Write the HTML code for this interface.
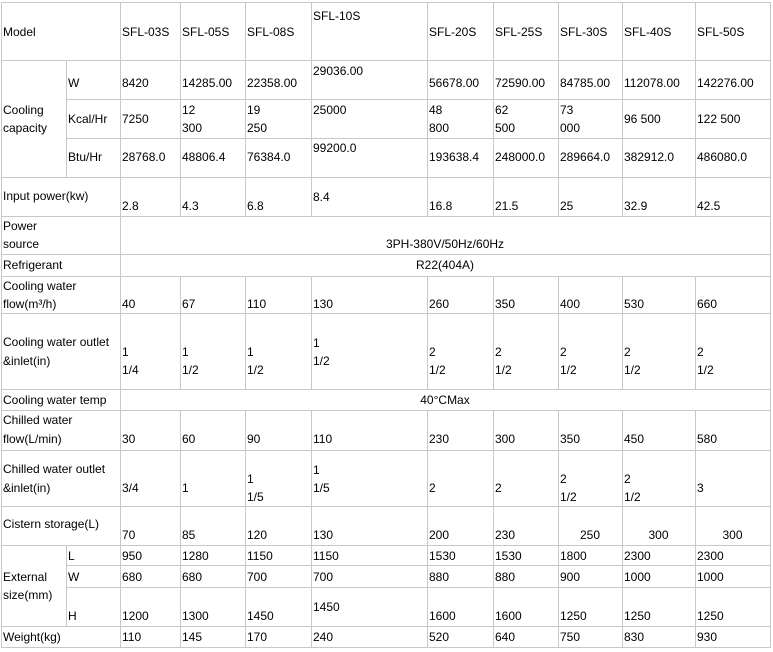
<!DOCTYPE html>
<html><head><meta charset="utf-8">
<style>
html,body{margin:0;padding:0;background:#fff;}
body{width:773px;height:652px;position:relative;overflow:hidden;}
.t{position:absolute;font-family:"Liberation Sans",Arial,sans-serif;font-size:12px;line-height:14px;white-space:nowrap;color:#000;}
.c{text-align:center;}
.h{position:absolute;height:1px;background:#c8c8c8;}
.v{position:absolute;width:1px;background:#c8c8c8;}
</style></head><body>
<!-- horizontal lines -->
<div class="h" style="left:1px;width:770px;top:2px"></div>
<div class="h" style="left:1px;width:770px;top:60px"></div>
<div class="h" style="left:66px;width:705px;top:99px"></div>
<div class="h" style="left:66px;width:705px;top:138px"></div>
<div class="h" style="left:1px;width:770px;top:177px"></div>
<div class="h" style="left:1px;width:770px;top:216px"></div>
<div class="h" style="left:1px;width:770px;top:254px"></div>
<div class="h" style="left:1px;width:770px;top:276px"></div>
<div class="h" style="left:1px;width:770px;top:313px"></div>
<div class="h" style="left:1px;width:770px;top:389px"></div>
<div class="h" style="left:1px;width:770px;top:410px"></div>
<div class="h" style="left:1px;width:770px;top:450px"></div>
<div class="h" style="left:1px;width:770px;top:506px"></div>
<div class="h" style="left:1px;width:770px;top:545px"></div>
<div class="h" style="left:66px;width:705px;top:565px"></div>
<div class="h" style="left:66px;width:705px;top:587px"></div>
<div class="h" style="left:1px;width:770px;top:626px"></div>
<div class="h" style="left:1px;width:770px;top:647px"></div>
<!-- vertical lines -->
<div class="v" style="left:1px;top:2px;height:646px"></div>
<div class="v" style="left:770px;top:2px;height:646px"></div>
<div class="v" style="left:120px;top:2px;height:646px"></div>
<div class="v" style="left:66px;top:60px;height:117px"></div>
<div class="v" style="left:66px;top:545px;height:81px"></div>
<div class="v" style="left:180px;top:2px;height:214px"></div><div class="v" style="left:180px;top:276px;height:113px"></div><div class="v" style="left:180px;top:410px;height:238px"></div>
<div class="v" style="left:245px;top:2px;height:214px"></div><div class="v" style="left:245px;top:276px;height:113px"></div><div class="v" style="left:245px;top:410px;height:238px"></div>
<div class="v" style="left:311px;top:2px;height:214px"></div><div class="v" style="left:311px;top:276px;height:113px"></div><div class="v" style="left:311px;top:410px;height:238px"></div>
<div class="v" style="left:427px;top:2px;height:214px"></div><div class="v" style="left:427px;top:276px;height:113px"></div><div class="v" style="left:427px;top:410px;height:238px"></div>
<div class="v" style="left:493px;top:2px;height:214px"></div><div class="v" style="left:493px;top:276px;height:113px"></div><div class="v" style="left:493px;top:410px;height:238px"></div>
<div class="v" style="left:558px;top:2px;height:214px"></div><div class="v" style="left:558px;top:276px;height:113px"></div><div class="v" style="left:558px;top:410px;height:238px"></div>
<div class="v" style="left:622px;top:2px;height:214px"></div><div class="v" style="left:622px;top:276px;height:113px"></div><div class="v" style="left:622px;top:410px;height:238px"></div>
<div class="v" style="left:695px;top:2px;height:214px"></div><div class="v" style="left:695px;top:276px;height:113px"></div><div class="v" style="left:695px;top:410px;height:238px"></div>

<!-- Model row -->
<div class="t" style="left:3px;top:25px">Model</div>
<div class="t" style="left:122px;top:25px">SFL-03S</div>
<div class="t" style="left:182px;top:25px">SFL-05S</div>
<div class="t" style="left:247px;top:25px">SFL-08S</div>
<div class="t" style="left:313px;top:9px">SFL-10S</div>
<div class="t" style="left:429px;top:25px">SFL-20S</div>
<div class="t" style="left:495px;top:25px">SFL-25S</div>
<div class="t" style="left:560px;top:25px">SFL-30S</div>
<div class="t" style="left:624px;top:25px">SFL-40S</div>
<div class="t" style="left:697px;top:25px">SFL-50S</div>

<!-- Cooling capacity -->
<div class="t" style="left:3px;top:103px">Cooling</div>
<div class="t" style="left:3px;top:121px">capacity</div>
<div class="t" style="left:68px;top:76px">W</div>
<div class="t" style="left:122px;top:76px">8420</div>
<div class="t" style="left:182px;top:76px">14285.00</div>
<div class="t" style="left:247px;top:76px">22358.00</div>
<div class="t" style="left:313px;top:64px">29036.00</div>
<div class="t" style="left:429px;top:76px">56678.00</div>
<div class="t" style="left:495px;top:76px">72590.00</div>
<div class="t" style="left:560px;top:76px">84785.00</div>
<div class="t" style="left:624px;top:76px">112078.00</div>
<div class="t" style="left:697px;top:76px">142276.00</div>

<div class="t" style="left:68px;top:112px">Kcal/Hr</div>
<div class="t" style="left:122px;top:112px">7250</div>
<div class="t" style="left:182px;top:103px">12</div><div class="t" style="left:182px;top:121px">300</div>
<div class="t" style="left:247px;top:103px">19</div><div class="t" style="left:247px;top:121px">250</div>
<div class="t" style="left:313px;top:103px">25000</div>
<div class="t" style="left:429px;top:103px">48</div><div class="t" style="left:429px;top:121px">800</div>
<div class="t" style="left:495px;top:103px">62</div><div class="t" style="left:495px;top:121px">500</div>
<div class="t" style="left:560px;top:103px">73</div><div class="t" style="left:560px;top:121px">000</div>
<div class="t" style="left:624px;top:112px">96 500</div>
<div class="t" style="left:697px;top:112px">122 500</div>

<div class="t" style="left:68px;top:150px">Btu/Hr</div>
<div class="t" style="left:122px;top:150px">28768.0</div>
<div class="t" style="left:182px;top:150px">48806.4</div>
<div class="t" style="left:247px;top:150px">76384.0</div>
<div class="t" style="left:313px;top:141px">99200.0</div>
<div class="t" style="left:429px;top:150px">193638.4</div>
<div class="t" style="left:495px;top:150px">248000.0</div>
<div class="t" style="left:560px;top:150px">289664.0</div>
<div class="t" style="left:624px;top:150px">382912.0</div>
<div class="t" style="left:697px;top:150px">486080.0</div>

<!-- Input power -->
<div class="t" style="left:3px;top:189px">Input power(kw)</div>
<div class="t" style="left:122px;top:199px">2.8</div>
<div class="t" style="left:182px;top:199px">4.3</div>
<div class="t" style="left:247px;top:199px">6.8</div>
<div class="t" style="left:313px;top:190px">8.4</div>
<div class="t" style="left:429px;top:199px">16.8</div>
<div class="t" style="left:495px;top:199px">21.5</div>
<div class="t" style="left:560px;top:199px">25</div>
<div class="t" style="left:624px;top:199px">32.9</div>
<div class="t" style="left:697px;top:199px">42.5</div>

<!-- Power source -->
<div class="t" style="left:3px;top:219px">Power</div>
<div class="t" style="left:3px;top:237px">source</div>
<div class="t c" style="left:120px;width:650px;top:237px">3PH-380V/50Hz/60Hz</div>

<!-- Refrigerant -->
<div class="t" style="left:3px;top:258px">Refrigerant</div>
<div class="t c" style="left:120px;width:650px;top:258px">R22(404A)</div>

<!-- Cooling water flow -->
<div class="t" style="left:3px;top:279px">Cooling water</div>
<div class="t" style="left:3px;top:297px">flow(m³/h)</div>
<div class="t" style="left:122px;top:297px">40</div>
<div class="t" style="left:182px;top:297px">67</div>
<div class="t" style="left:247px;top:297px">110</div>
<div class="t" style="left:313px;top:297px">130</div>
<div class="t" style="left:429px;top:297px">260</div>
<div class="t" style="left:495px;top:297px">350</div>
<div class="t" style="left:560px;top:297px">400</div>
<div class="t" style="left:624px;top:297px">530</div>
<div class="t" style="left:697px;top:297px">660</div>

<!-- Cooling water outlet -->
<div class="t" style="left:3px;top:335px">Cooling water outlet</div>
<div class="t" style="left:3px;top:354px">&amp;inlet(in)</div>
<div class="t" style="left:122px;top:345px">1</div><div class="t" style="left:122px;top:363px">1/4</div>
<div class="t" style="left:182px;top:345px">1</div><div class="t" style="left:182px;top:363px">1/2</div>
<div class="t" style="left:247px;top:345px">1</div><div class="t" style="left:247px;top:363px">1/2</div>
<div class="t" style="left:313px;top:336px">1</div><div class="t" style="left:313px;top:354px">1/2</div>
<div class="t" style="left:429px;top:345px">2</div><div class="t" style="left:429px;top:363px">1/2</div>
<div class="t" style="left:495px;top:345px">2</div><div class="t" style="left:495px;top:363px">1/2</div>
<div class="t" style="left:560px;top:345px">2</div><div class="t" style="left:560px;top:363px">1/2</div>
<div class="t" style="left:624px;top:345px">2</div><div class="t" style="left:624px;top:363px">1/2</div>
<div class="t" style="left:697px;top:345px">2</div><div class="t" style="left:697px;top:363px">1/2</div>

<!-- Cooling water temp -->
<div class="t" style="left:3px;top:393px">Cooling water temp</div>
<div class="t c" style="left:120px;width:650px;top:393px">40°CMax</div>

<!-- Chilled water flow -->
<div class="t" style="left:3px;top:413px">Chilled water</div>
<div class="t" style="left:3px;top:432px">flow(L/min)</div>
<div class="t" style="left:122px;top:432px">30</div>
<div class="t" style="left:182px;top:432px">60</div>
<div class="t" style="left:247px;top:432px">90</div>
<div class="t" style="left:313px;top:432px">110</div>
<div class="t" style="left:429px;top:432px">230</div>
<div class="t" style="left:495px;top:432px">300</div>
<div class="t" style="left:560px;top:432px">350</div>
<div class="t" style="left:624px;top:432px">450</div>
<div class="t" style="left:697px;top:432px">580</div>

<!-- Chilled water outlet -->
<div class="t" style="left:3px;top:462px">Chilled water outlet</div>
<div class="t" style="left:3px;top:481px">&amp;inlet(in)</div>
<div class="t" style="left:122px;top:481px">3/4</div>
<div class="t" style="left:182px;top:481px">1</div>
<div class="t" style="left:247px;top:472px">1</div><div class="t" style="left:247px;top:490px">1/5</div>
<div class="t" style="left:313px;top:463px">1</div><div class="t" style="left:313px;top:481px">1/5</div>
<div class="t" style="left:429px;top:481px">2</div>
<div class="t" style="left:495px;top:481px">2</div>
<div class="t" style="left:560px;top:472px">2</div><div class="t" style="left:560px;top:490px">1/2</div>
<div class="t" style="left:624px;top:472px">2</div><div class="t" style="left:624px;top:490px">1/2</div>
<div class="t" style="left:697px;top:481px">3</div>

<!-- Cistern -->
<div class="t" style="left:3px;top:517px">Cistern storage(L)</div>
<div class="t" style="left:122px;top:528px">70</div>
<div class="t" style="left:182px;top:528px">85</div>
<div class="t" style="left:247px;top:528px">120</div>
<div class="t" style="left:313px;top:528px">130</div>
<div class="t" style="left:429px;top:528px">200</div>
<div class="t" style="left:495px;top:528px">230</div>
<div class="t c" style="left:558px;width:64px;top:528px">250</div>
<div class="t c" style="left:622px;width:73px;top:528px">300</div>
<div class="t c" style="left:695px;width:75px;top:528px">300</div>

<!-- External size -->
<div class="t" style="left:3px;top:570px">External</div>
<div class="t" style="left:3px;top:588px">size(mm)</div>
<div class="t" style="left:68px;top:549px">L</div>
<div class="t" style="left:122px;top:549px">950</div>
<div class="t" style="left:182px;top:549px">1280</div>
<div class="t" style="left:247px;top:549px">1150</div>
<div class="t" style="left:313px;top:549px">1150</div>
<div class="t" style="left:429px;top:549px">1530</div>
<div class="t" style="left:495px;top:549px">1530</div>
<div class="t" style="left:560px;top:549px">1800</div>
<div class="t" style="left:624px;top:549px">2300</div>
<div class="t" style="left:697px;top:549px">2300</div>

<div class="t" style="left:68px;top:570px">W</div>
<div class="t" style="left:122px;top:570px">680</div>
<div class="t" style="left:182px;top:570px">680</div>
<div class="t" style="left:247px;top:570px">700</div>
<div class="t" style="left:313px;top:570px">700</div>
<div class="t" style="left:429px;top:570px">880</div>
<div class="t" style="left:495px;top:570px">880</div>
<div class="t" style="left:560px;top:570px">900</div>
<div class="t" style="left:624px;top:570px">1000</div>
<div class="t" style="left:697px;top:570px">1000</div>

<div class="t" style="left:68px;top:609px">H</div>
<div class="t" style="left:122px;top:609px">1200</div>
<div class="t" style="left:182px;top:609px">1300</div>
<div class="t" style="left:247px;top:609px">1450</div>
<div class="t" style="left:313px;top:600px">1450</div>
<div class="t" style="left:429px;top:609px">1600</div>
<div class="t" style="left:495px;top:609px">1600</div>
<div class="t" style="left:560px;top:609px">1250</div>
<div class="t" style="left:624px;top:609px">1250</div>
<div class="t" style="left:697px;top:609px">1250</div>

<!-- Weight -->
<div class="t" style="left:3px;top:630px">Weight(kg)</div>
<div class="t" style="left:122px;top:630px">110</div>
<div class="t" style="left:182px;top:630px">145</div>
<div class="t" style="left:247px;top:630px">170</div>
<div class="t" style="left:313px;top:630px">240</div>
<div class="t" style="left:429px;top:630px">520</div>
<div class="t" style="left:495px;top:630px">640</div>
<div class="t" style="left:560px;top:630px">750</div>
<div class="t" style="left:624px;top:630px">830</div>
<div class="t" style="left:697px;top:630px">930</div>
</body></html>
